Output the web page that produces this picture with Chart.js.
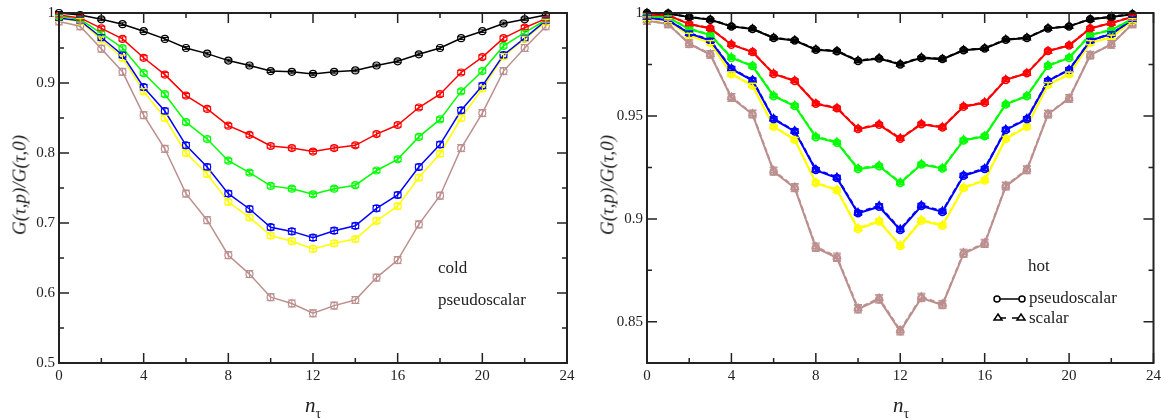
<!DOCTYPE html>
<html lang="en">
<head>
    <meta charset="UTF-8">
    <title>G(tau,p)/G(tau,0) cold and hot</title>
    <script src="https://cdn.jsdelivr.net/npm/chart.js"></script>
    <style>
        body {
            margin: 0;
            background: white;
            font-family: 'Liberation Serif', 'Times New Roman', serif;
            color: #222;
        }
        .stage {
            position: relative;
            width: 1165px;
            height: 418px;
            overflow: hidden;
        }
        canvas {
            position: absolute;
            top: 0;
        }
        .lbl {
            position: absolute;
            white-space: nowrap;
            line-height: 1;
            font-size: 17px;
        }
        .ytitle {
            font-size: 19px;
            font-style: italic;
            transform: translate(-50%, -50%) rotate(-90deg);
        }
        .xtitle {
            font-size: 21px;
            font-style: italic;
            transform: translateX(-50%);
        }
        .xtitle sub {
            font-style: normal;
            font-size: 14px;
            vertical-align: -6px;
        }
    </style>
</head>
<body>
<div class="stage">
    <canvas id="coldChart" width="590" height="418" style="left:0"></canvas>
    <canvas id="hotChart" width="575" height="418" style="left:590px"></canvas>

    <div class="lbl ytitle" style="left:19px; top:185px">G(τ,p)/G(τ,0)</div>
    <div class="lbl ytitle" style="left:607px; top:185px">G(τ,p)/G(τ,0)</div>
    <div class="lbl xtitle" style="left:313px; top:395px">n<sub>τ</sub></div>
    <div class="lbl xtitle" style="left:901px; top:395px">n<sub>τ</sub></div>

    <div class="lbl" style="left:438px; top:259px">cold</div>
    <div class="lbl" style="left:438px; top:291px">pseudoscalar</div>

    <div class="lbl" style="left:1028px; top:257px">hot</div>
    <div class="lbl" style="left:1029px; top:289px">pseudoscalar</div>
    <div class="lbl" style="left:1029px; top:309px">scalar</div>
</div>

<script>
// ---- data ----
const nTau = [0, 1, 2, 3, 4, 5, 6, 7, 8, 9, 10, 11, 12, 13, 14, 15, 16, 17, 18, 19, 20, 21, 22, 23];

const xMajor = [0, 4, 8, 12, 16, 20, 24];
const xMinor = [2, 6, 10, 14, 18, 22];
const coldYTicks = [0.5, 0.6, 0.7, 0.8, 0.9, 1];
const coldYMinor = [0.55, 0.65, 0.75, 0.85, 0.95];
const hotYTicks = [0.85, 0.9, 0.95, 1];
const hotYMinor = [0.875, 0.925, 0.975];

const seriesColors = ['#000000', '#ff0000', '#00ff00', '#0000ff', '#ffff00', '#bc8f8f'];

// cold, pseudoscalar
const coldBlack  = [1.000, 0.997, 0.991, 0.984, 0.974, 0.963, 0.950, 0.942, 0.932, 0.925, 0.917, 0.916, 0.913, 0.916, 0.918, 0.925, 0.931, 0.941, 0.950, 0.964, 0.974, 0.985, 0.991, 0.997];
const coldRed    = [0.997, 0.993, 0.978, 0.963, 0.936, 0.912, 0.882, 0.863, 0.839, 0.826, 0.810, 0.807, 0.802, 0.807, 0.811, 0.827, 0.840, 0.865, 0.884, 0.915, 0.937, 0.964, 0.979, 0.992];
const coldGreen  = [0.995, 0.991, 0.971, 0.950, 0.914, 0.884, 0.844, 0.820, 0.789, 0.772, 0.753, 0.749, 0.741, 0.749, 0.754, 0.775, 0.791, 0.823, 0.848, 0.888, 0.917, 0.953, 0.972, 0.990];
const coldBlue   = [0.993, 0.989, 0.965, 0.940, 0.894, 0.860, 0.811, 0.780, 0.742, 0.720, 0.694, 0.688, 0.679, 0.689, 0.696, 0.721, 0.740, 0.780, 0.812, 0.861, 0.896, 0.940, 0.964, 0.989];
const coldYellow = [0.992, 0.988, 0.962, 0.936, 0.888, 0.850, 0.800, 0.770, 0.730, 0.708, 0.682, 0.674, 0.663, 0.671, 0.677, 0.703, 0.724, 0.765, 0.799, 0.850, 0.892, 0.938, 0.963, 0.987];
const coldBrown  = [0.988, 0.981, 0.949, 0.916, 0.854, 0.806, 0.742, 0.704, 0.654, 0.627, 0.594, 0.585, 0.571, 0.582, 0.590, 0.622, 0.647, 0.698, 0.739, 0.807, 0.857, 0.917, 0.950, 0.981];
const coldErr    = [0.002, 0.003, 0.003, 0.004, 0.004, 0.005];

// hot, pseudoscalar
const hotPsBlack  = [1.0000, 0.9998, 0.9980, 0.9967, 0.9935, 0.9922, 0.9879, 0.9866, 0.9822, 0.9814, 0.9767, 0.9779, 0.9750, 0.9782, 0.9776, 0.9819, 0.9827, 0.9870, 0.9879, 0.9925, 0.9935, 0.9970, 0.9981, 0.9994];
const hotPsRed    = [0.9990, 0.9989, 0.9946, 0.9925, 0.9846, 0.9810, 0.9704, 0.9670, 0.9559, 0.9537, 0.9436, 0.9457, 0.9389, 0.9460, 0.9444, 0.9545, 0.9564, 0.9675, 0.9707, 0.9815, 0.9842, 0.9925, 0.9951, 0.9981];
const hotPsGreen  = [0.9986, 0.9978, 0.9922, 0.9893, 0.9782, 0.9742, 0.9596, 0.9548, 0.9397, 0.9370, 0.9242, 0.9256, 0.9174, 0.9264, 0.9245, 0.9381, 0.9401, 0.9556, 0.9596, 0.9744, 0.9782, 0.9893, 0.9917, 0.9970];
const hotPsBlue   = [0.9978, 0.9965, 0.9901, 0.9866, 0.9728, 0.9672, 0.9484, 0.9425, 0.9237, 0.9198, 0.9027, 0.9059, 0.8946, 0.9062, 0.9034, 0.9209, 0.9242, 0.9432, 0.9484, 0.9670, 0.9723, 0.9866, 0.9898, 0.9967];
const hotPsYellow = [0.9973, 0.9962, 0.9890, 0.9855, 0.9702, 0.9647, 0.9447, 0.9384, 0.9174, 0.9139, 0.8951, 0.8987, 0.8868, 0.8991, 0.8967, 0.9150, 0.9187, 0.9389, 0.9447, 0.9651, 0.9702, 0.9855, 0.9882, 0.9962];
const hotPsBrown  = [0.9962, 0.9946, 0.9850, 0.9798, 0.9588, 0.9508, 0.9230, 0.9150, 0.8860, 0.8811, 0.8561, 0.8609, 0.8454, 0.8616, 0.8582, 0.8831, 0.8879, 0.9158, 0.9237, 0.9508, 0.9584, 0.9795, 0.9847, 0.9946];

// hot, scalar
const hotScBlack  = [1.0000, 0.9998, 0.9981, 0.9968, 0.9936, 0.9923, 0.9880, 0.9868, 0.9823, 0.9816, 0.9769, 0.9781, 0.9752, 0.9784, 0.9777, 0.9820, 0.9829, 0.9871, 0.9880, 0.9926, 0.9936, 0.9970, 0.9982, 0.9995];
const hotScRed    = [0.9991, 0.9989, 0.9947, 0.9926, 0.9848, 0.9811, 0.9706, 0.9672, 0.9561, 0.9539, 0.9438, 0.9460, 0.9392, 0.9462, 0.9446, 0.9547, 0.9566, 0.9677, 0.9708, 0.9816, 0.9843, 0.9926, 0.9951, 0.9982];
const hotScGreen  = [0.9987, 0.9979, 0.9924, 0.9895, 0.9785, 0.9744, 0.9599, 0.9551, 0.9400, 0.9373, 0.9245, 0.9259, 0.9177, 0.9267, 0.9247, 0.9384, 0.9403, 0.9558, 0.9598, 0.9746, 0.9784, 0.9894, 0.9918, 0.9971];
const hotScBlue   = [0.9979, 0.9966, 0.9903, 0.9868, 0.9731, 0.9675, 0.9487, 0.9428, 0.9240, 0.9202, 0.9031, 0.9064, 0.8950, 0.9066, 0.9038, 0.9212, 0.9245, 0.9435, 0.9487, 0.9672, 0.9725, 0.9867, 0.9899, 0.9968];
const hotScYellow = [0.9974, 0.9963, 0.9892, 0.9857, 0.9705, 0.9650, 0.9450, 0.9387, 0.9177, 0.9142, 0.8955, 0.8991, 0.8872, 0.8995, 0.8970, 0.9153, 0.9190, 0.9392, 0.9450, 0.9653, 0.9704, 0.9856, 0.9883, 0.9963];
const hotScBrown  = [0.9963, 0.9947, 0.9852, 0.9800, 0.9591, 0.9511, 0.9234, 0.9154, 0.8865, 0.8816, 0.8566, 0.8614, 0.8459, 0.8621, 0.8586, 0.8835, 0.8883, 0.9161, 0.9240, 0.9510, 0.9586, 0.9796, 0.9848, 0.9947];
const hotErr      = [0.0006, 0.0008, 0.0008, 0.0010, 0.0010, 0.0018];

const coldSeries = [coldBlack, coldRed, coldGreen, coldBlue, coldYellow, coldBrown];
const hotPsSeries = [hotPsBlack, hotPsRed, hotPsGreen, hotPsBlue, hotPsYellow, hotPsBrown];
const hotScSeries = [hotScBlack, hotScRed, hotScGreen, hotScBlue, hotScYellow, hotScBrown];

const serif = "'Liberation Serif', 'Times New Roman', serif";
Chart.defaults.font.family = serif;
Chart.defaults.font.size = 15;
Chart.defaults.color = '#222';

// error bars drawn on top of each dataset, through the chart's own y scale
const errorBarPlugin = {
    id: 'errorBars',
    afterDatasetsDraw(chart) {
        const ctx = chart.ctx;
        const yScale = chart.scales.y;
        chart.data.datasets.forEach((ds, i) => {
            if (!ds.err) return;
            const meta = chart.getDatasetMeta(i);
            ctx.save();
            ctx.strokeStyle = ds.borderColor;
            ctx.lineWidth = 1;
            meta.data.forEach((pt, j) => {
                const v = ds.data[j].y;
                const yTop = yScale.getPixelForValue(v + ds.err);
                const yBot = yScale.getPixelForValue(v - ds.err);
                ctx.beginPath();
                ctx.moveTo(pt.x, yTop); ctx.lineTo(pt.x, yBot);
                ctx.moveTo(pt.x - 4, yTop); ctx.lineTo(pt.x + 4, yTop);
                ctx.moveTo(pt.x - 4, yBot); ctx.lineTo(pt.x + 4, yBot);
                ctx.stroke();
            });
            ctx.restore();
        });
    }
};

// xmgrace-like frame with inward ticks on all four sides
const framePlugin = {
    id: 'frame',
    afterDraw(chart, args, opts) {
        const ctx = chart.ctx;
        const a = chart.chartArea;
        const xs = chart.scales.x, ys = chart.scales.y;
        ctx.save();
        ctx.strokeStyle = '#222';
        ctx.lineWidth = 1.5;
        ctx.beginPath();
        const tick = (vals, len) => {
            vals.forEach(v => {
                const px = xs.getPixelForValue(v);
                ctx.moveTo(px, a.bottom); ctx.lineTo(px, a.bottom - len);
                ctx.moveTo(px, a.top); ctx.lineTo(px, a.top + len);
            });
        };
        const ytick = (vals, len) => {
            vals.forEach(v => {
                const py = ys.getPixelForValue(v);
                ctx.moveTo(a.left, py); ctx.lineTo(a.left + len, py);
                ctx.moveTo(a.right, py); ctx.lineTo(a.right - len, py);
            });
        };
        tick(xMajor, 10); tick(xMinor, 5);
        ytick(opts.yMajor, 10); ytick(opts.yMinor, 5);
        ctx.stroke();
        ctx.lineWidth = 2;
        ctx.strokeRect(a.left, a.top, a.right - a.left, a.bottom - a.top);
        ctx.restore();
    }
};

// in-plot legend for the hot panel
const hotLegendPlugin = {
    id: 'hotLegend',
    afterDraw(chart) {
        const ctx = chart.ctx;
        const x0 = chart.chartArea.left + 350;
        ctx.save();
        ctx.strokeStyle = '#000';
        ctx.fillStyle = '#000';
        ctx.lineWidth = 1.5;
        // pseudoscalar: circle - solid - circle
        ctx.beginPath();
        ctx.moveTo(x0 + 3, 299); ctx.lineTo(x0 + 22, 299);
        ctx.stroke();
        [x0, x0 + 25].forEach(cx => {
            ctx.beginPath(); ctx.arc(cx, 299, 3, 0, Math.PI * 2); ctx.stroke();
        });
        // scalar: triangle - dashed - triangle
        ctx.beginPath();
        ctx.moveTo(x0 + 3, 318); ctx.lineTo(x0 + 9, 318);
        ctx.moveTo(x0 + 15, 318); ctx.lineTo(x0 + 21, 318);
        ctx.stroke();
        [x0 + 1, x0 + 24].forEach(cx => {
            ctx.beginPath();
            ctx.moveTo(cx, 314); ctx.lineTo(cx + 4, 320); ctx.lineTo(cx - 4, 320); ctx.closePath();
            ctx.stroke();
        });
        ctx.restore();
    }
};

function points(vals) {
    return nTau.map((x, i) => ({ x: x, y: vals[i] }));
}

function makeScales(yMin, yMax, yTicks, yWidth) {
    return {
        x: {
            type: 'linear', min: 0, max: 24,
            afterBuildTicks: s => { s.ticks = xMajor.map(v => ({ value: v })); },
            afterFit: s => { s.height = 55; },
            grid: { display: false, drawTicks: false }, border: { display: false },
            ticks: { padding: 4, maxRotation: 0, color: '#222' }
        },
        y: {
            type: 'linear', min: yMin, max: yMax,
            afterBuildTicks: s => { s.ticks = yTicks.map(v => ({ value: v })); },
            afterFit: s => { s.width = yWidth; },
            grid: { display: false, drawTicks: false }, border: { display: false },
            ticks: { padding: 4, color: '#222', callback: v => String(v) }
        }
    };
}

const baseOptions = {
    responsive: false,
    animation: false,
    devicePixelRatio: 1,
    plugins: { legend: { display: false }, tooltip: { enabled: false } }
};

// cold panel
new Chart(document.getElementById('coldChart'), {
    type: 'line',
    data: {
        datasets: coldSeries.map((vals, k) => ({
            data: points(vals),
            err: coldErr[k],
            borderColor: seriesColors[k],
            backgroundColor: 'rgba(0,0,0,0)',
            borderWidth: 1.5,
            pointStyle: 'circle',
            pointRadius: 3.5,
            pointBorderWidth: 1.2,
            clip: false
        }))
    },
    options: {
        ...baseOptions,
        layout: { padding: { top: 7, right: 23, left: 0, bottom: 0 } },
        scales: makeScales(0.5, 1.0, coldYTicks, 59),
        plugins: { ...baseOptions.plugins, frame: { yMajor: coldYTicks, yMinor: coldYMinor } }
    },
    plugins: [errorBarPlugin, framePlugin]
});

// hot panel: pseudoscalar (circles, solid) and scalar (triangles, dashed)
const hotDatasets = [];
hotPsSeries.forEach((vals, k) => {
    hotDatasets.push({
        data: points(vals),
        err: hotErr[k],
        borderColor: seriesColors[k],
        backgroundColor: 'rgba(0,0,0,0)',
        borderWidth: 2,
        pointStyle: 'circle',
        pointRadius: 3.5,
        pointBorderWidth: 1.5,
        clip: false
    });
    hotDatasets.push({
        data: points(hotScSeries[k]),
        err: hotErr[k],
        borderColor: seriesColors[k],
        backgroundColor: 'rgba(0,0,0,0)',
        borderWidth: 2,
        borderDash: [5, 3],
        pointStyle: 'triangle',
        pointRadius: 4,
        pointBorderWidth: 1.5,
        clip: false
    });
});

new Chart(document.getElementById('hotChart'), {
    type: 'line',
    data: { datasets: hotDatasets },
    options: {
        ...baseOptions,
        layout: { padding: { top: 7, right: 10, left: 0, bottom: 0 } },
        scales: makeScales(0.83, 1.0, hotYTicks, 57),
        plugins: { ...baseOptions.plugins, frame: { yMajor: hotYTicks, yMinor: hotYMinor } }
    },
    plugins: [errorBarPlugin, framePlugin, hotLegendPlugin]
});
</script>
</body>
</html>
